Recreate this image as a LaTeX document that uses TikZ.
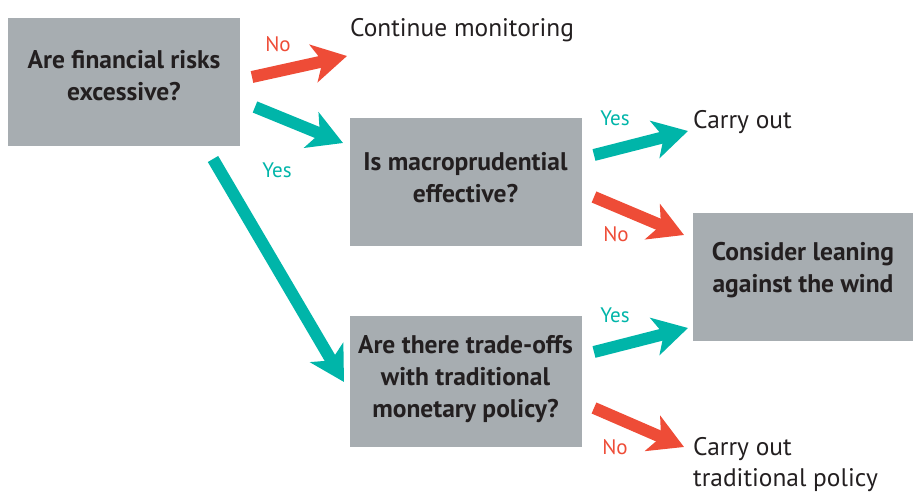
\documentclass[tikz,border=0pt]{standalone}
\usepackage{fontspec}
\setmainfont{PT Sans}
\usetikzlibrary{arrows.meta}
\definecolor{boxgray}{RGB}{167,173,177}
\definecolor{arrred}{RGB}{238,76,55}
\definecolor{arrteal}{RGB}{0,181,169}
\definecolor{txt}{RGB}{35,31,32}
\tikzset{
  qbox/.style={fill=boxgray, draw=none, minimum width=232pt, minimum height=128pt, inner sep=0pt},
  qtext/.style={align=center, font=\fontsize{25.5}{32}\selectfont\bfseries, text=txt, inner sep=0pt},
  plain/.style={font=\fontsize{25.4}{31}\selectfont, text=txt, anchor=base west, align=left, inner sep=0pt},
  lab/.style={font=\fontsize{21}{24}\selectfont, inner sep=0pt},
  fat/.style={line width=12pt, -{Stealth[length=34pt,width=38pt,inset=9pt]}},
  redarr/.style={fat, draw=arrred, fill=arrred},
  tealarr/.style={fat, draw=arrteal, fill=arrteal},
}
\begin{document}
\begin{tikzpicture}[x=1pt,y=-1pt]
\useasboundingbox (0,0) rectangle (914,494);
\node[qbox] (q1) at (124,82) {};
\node[qbox] (q2) at (465.5,182) {};
\node[qbox, minimum width=220pt] (q3) at (803,277) {};
\node[qbox, minimum height=131pt] (q4) at (465.5,381.5) {};
\node[qtext] (q1t) at ([yshift=6pt]q1.center) {Are financial risks\\excessive?};
\node[qtext] (q2t) at ([yshift=4pt]q2.center) {Is macroprudential\\effective?};
\node[qtext] (q3t) at ([yshift=7pt]q3.center) {Consider leaning\\against the wind};
\node[qtext] (q4t) at ([yshift=2pt]q4.center) {Are there trade-offs\\with traditional\\monetary policy?};
\node[plain] (t1) at (350,37) {Continue monitoring};
\node[plain] (t2) at (693,129) {Carry out};
\node[plain] (t3) at (693,486) {Carry out\\traditional policy};
% arrow endpoints
\coordinate (a1s) at (252,77); \coordinate (a1e) at (347,56);
\coordinate (a2s) at (255,107); \coordinate (a2e) at (343,143);
\coordinate (a3s) at (213,159); \coordinate (a3e) at (344,382);
\coordinate (a4s) at (594,155); \coordinate (a4e) at (688,131);
\coordinate (a5s) at (594,197); \coordinate (a5e) at (684,235);
\coordinate (a6s) at (594,352); \coordinate (a6e) at (688,328);
\coordinate (a7s) at (594,408); \coordinate (a7e) at (684,447);
\draw[redarr] (a1s) -- (a1e);
\draw[tealarr] (a2s) -- (a2e);
\draw[tealarr] (a3s) -- (a3e);
\draw[tealarr] (a4s) -- (a4e);
\draw[redarr] (a5s) -- (a5e);
\draw[tealarr] (a6s) -- (a6e);
\draw[redarr] (a7s) -- (a7e);
\node[lab, text=arrred] (l1) at (278,44) {No};
\node[lab, text=arrteal] (l2) at (277,170) {Yes};
\node[lab, text=arrteal] (l3) at (615,118) {Yes};
\node[lab, text=arrred] (l4) at (616,234) {No};
\node[lab, text=arrteal] (l5) at (615,315) {Yes};
\node[lab, text=arrred] (l6) at (615,447) {No};
\end{tikzpicture}
\end{document}
